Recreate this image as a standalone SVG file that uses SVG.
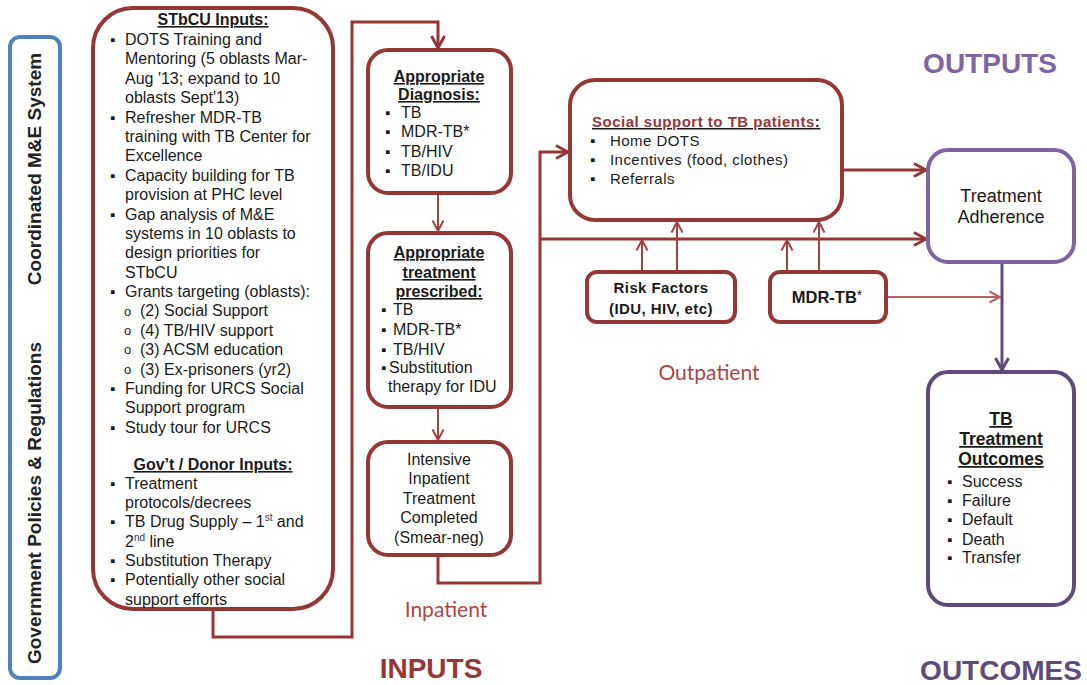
<svg xmlns="http://www.w3.org/2000/svg" width="1087" height="685" viewBox="0 0 1087 685">
<defs>
<marker id="ar" markerUnits="userSpaceOnUse" markerWidth="16" markerHeight="16" viewBox="0 0 16 16" refX="14" refY="8" orient="auto"><path d="M2,1.5 L14,8 L2,14.5" fill="none" stroke="#953735" stroke-width="3"/></marker>
<marker id="art" markerUnits="userSpaceOnUse" markerWidth="14" markerHeight="14" viewBox="0 0 14 14" refX="12.5" refY="7" orient="auto"><path d="M2,1.5 L12.5,7 L2,12.5" fill="none" stroke="#a5413f" stroke-width="2"/></marker>
<marker id="arl" markerUnits="userSpaceOnUse" markerWidth="14" markerHeight="14" viewBox="0 0 14 14" refX="12.5" refY="7" orient="auto"><path d="M2,1.5 L12.5,7 L2,12.5" fill="none" stroke="#b9605e" stroke-width="2"/></marker>
<marker id="arp" markerUnits="userSpaceOnUse" markerWidth="16" markerHeight="16" viewBox="0 0 16 16" refX="14" refY="8" orient="auto"><path d="M2,1.5 L14,8 L2,14.5" fill="none" stroke="#604a7b" stroke-width="3"/></marker>
</defs>
<style>
.box{fill:#fff;stroke:#953735;stroke-width:4}
.pbox{fill:#fff;stroke:#8064a2;stroke-width:4}
.dbox{fill:#fff;stroke:#604a7b;stroke-width:4}
text{font-family:"Liberation Sans",Arial,sans-serif;fill:#1a1a1a}
.t{font-size:16px}
.h{font-size:16px;font-weight:bold;text-decoration:underline}
.c{text-anchor:middle}
.b{font-family:"DejaVu Sans",sans-serif;font-size:15px}
.o{font-family:"Liberation Mono",monospace;font-size:13px}
.ss{font-size:15px;letter-spacing:0.45px}
.rf{font-size:15px;font-weight:bold;letter-spacing:0.4px}
.side{font-size:19px;font-weight:bold;text-anchor:middle;fill:#222}
.big{font-size:28px;font-weight:bold;text-anchor:middle}
.cal{font-family:Lato,"Open Sans",sans-serif;font-size:21px;text-anchor:middle;fill:#a84846}
.m{fill:none;stroke:#953735;stroke-width:3}
.thin{fill:none;stroke:#a5413f;stroke-width:2}
</style>

<g id="connectors">
<polyline class="m" points="213,610 213,637 352,637 352,22 438,22 438,48" marker-end="url(#ar)"/>
<line class="thin" x1="438" y1="193" x2="438" y2="231" marker-end="url(#art)"/>
<line class="thin" x1="438" y1="407" x2="438" y2="440" marker-end="url(#art)"/>
<polyline class="m" points="438,555 438,583 540,583 540,152 568,152" marker-end="url(#ar)"/>
<line class="m" x1="540" y1="239" x2="926" y2="239" marker-end="url(#ar)"/>
<line class="m" x1="842" y1="170" x2="926" y2="170" marker-end="url(#ar)"/>
<line class="thin" x1="642" y1="272" x2="642" y2="240" marker-end="url(#art)"/>
<line class="thin" x1="677" y1="272" x2="677" y2="222" marker-end="url(#art)"/>
<line class="thin" x1="787" y1="272" x2="787" y2="240" marker-end="url(#art)"/>
<line class="thin" x1="819" y1="272" x2="819" y2="222" marker-end="url(#art)"/>
<line x1="886" y1="297" x2="1000" y2="297" stroke="#b9605e" stroke-width="2" marker-end="url(#arl)"/>
<line x1="1002" y1="262" x2="1002" y2="370" stroke="#604a7b" stroke-width="3" marker-end="url(#arp)"/>
</g>

<g id="side-bar">
<rect x="10" y="37" width="50" height="641" rx="10" fill="#fff" stroke="#4f81bd" stroke-width="4"/>
<text class="side" transform="translate(41,169) rotate(-90)">Coordinated M&amp;E System</text>
<text class="side" transform="translate(41,503) rotate(-90)">Government Policies &amp; Regulations</text>
</g>

<g id="inputs-box">
<rect class="box" x="93" y="8" width="240" height="601" rx="40"/>
<text class="h c" x="213" y="25">STbCU Inputs:</text>
<g class="b">
<text x="110" y="45">▪</text><text x="110" y="123">▪</text><text x="110" y="181">▪</text><text x="110" y="220">▪</text><text x="110" y="297">▪</text><text x="110" y="394">▪</text><text x="110" y="433">▪</text>
<text x="110" y="489">▪</text><text x="110" y="527">▪</text><text x="110" y="566">▪</text><text x="110" y="585">▪</text>
</g>
<g class="o">
<text x="124" y="316">o</text><text x="124" y="335">o</text><text x="124" y="354">o</text><text x="124" y="374">o</text>
</g>
<text class="t">
<tspan x="125" y="45">DOTS Training and</tspan>
<tspan x="125" y="64">Mentoring (5 oblasts Mar-</tspan>
<tspan x="125" y="84">Aug '13; expand to 10</tspan>
<tspan x="125" y="103">oblasts Sept'13)</tspan>
<tspan x="125" y="123">Refresher MDR-TB</tspan>
<tspan x="125" y="142">training with TB Center for</tspan>
<tspan x="125" y="161">Excellence</tspan>
<tspan x="125" y="181">Capacity building for TB</tspan>
<tspan x="125" y="200">provision at PHC level</tspan>
<tspan x="125" y="220">Gap analysis of M&amp;E</tspan>
<tspan x="125" y="239">systems in 10 oblasts to</tspan>
<tspan x="125" y="258">design priorities for</tspan>
<tspan x="125" y="278">STbCU</tspan>
<tspan x="125" y="297">Grants targeting  (oblasts):</tspan>
<tspan x="140" y="316">(2) Social Support</tspan>
<tspan x="140" y="336">(4) TB/HIV support</tspan>
<tspan x="140" y="355">(3) ACSM education</tspan>
<tspan x="140" y="375">(3) Ex-prisoners (yr2)</tspan>
<tspan x="125" y="394">Funding for URCS Social</tspan>
<tspan x="125" y="413">Support program</tspan>
<tspan x="125" y="433">Study tour for URCS</tspan>
</text>
<text class="h c" x="213" y="470">Gov’t / Donor Inputs:</text>
<text class="t">
<tspan x="125" y="489">Treatment</tspan>
<tspan x="125" y="508">protocols/decrees</tspan>
<tspan x="125" y="527">TB Drug Supply – 1<tspan font-size="10" dy="-6" fill="#1f3864">st</tspan><tspan dy="6"> and</tspan></tspan>
<tspan x="125" y="547">2<tspan font-size="10" dy="-6" fill="#1f3864">nd</tspan><tspan dy="6"> line</tspan></tspan>
<tspan x="125" y="566">Substitution Therapy</tspan>
<tspan x="125" y="585">Potentially other social</tspan>
<tspan x="125" y="605">support efforts</tspan>
</text>
</g>

<g id="diagnosis">
<rect class="box" x="368" y="50" width="143" height="143" rx="20"/>
<text class="h c" x="439" y="82">Appropriate</text>
<text class="h c" x="439" y="100">Diagnosis:</text>
<g class="b"><text x="385" y="118">▪</text><text x="385" y="137">▪</text><text x="385" y="157">▪</text><text x="385" y="176">▪</text></g>
<text class="t"><tspan x="401" y="118">TB</tspan><tspan x="401" y="137">MDR-TB*</tspan><tspan x="401" y="157">TB/HIV</tspan><tspan x="401" y="176">TB/IDU</tspan></text>
</g>

<g id="treatment-prescribed">
<rect class="box" x="368" y="233" width="143" height="174" rx="20"/>
<text class="h c" x="439" y="258">Appropriate</text>
<text class="h c" x="439" y="278">treatment</text>
<text class="h c" x="439" y="297">prescribed:</text>
<g class="b"><text x="381" y="315">▪</text><text x="381" y="335">▪</text><text x="381" y="355">▪</text><text x="381" y="373">▪</text></g>
<text class="t"><tspan x="393" y="315">TB</tspan><tspan x="393" y="335">MDR-TB*</tspan><tspan x="393" y="355">TB/HIV</tspan><tspan x="389" y="373">Substitution</tspan><tspan x="388" y="392">therapy for IDU</tspan></text>
</g>

<g id="intensive">
<rect class="box" x="368" y="442" width="143" height="113" rx="20"/>
<text class="t c"><tspan x="439" y="465">Intensive</tspan><tspan x="439" y="484">Inpatient</tspan><tspan x="439" y="504">Treatment</tspan><tspan x="439" y="523">Completed</tspan><tspan x="439" y="543">(Smear-neg)</tspan></text>
</g>

<g id="social-support">
<rect class="box" x="570" y="80" width="272" height="140" rx="25"/>
<text x="592" y="127" style="font-size:15px;font-weight:bold;letter-spacing:0.5px;text-decoration:underline"><tspan fill="#953735">Social support to TB patients</tspan>:</text>
<g class="b"><text x="590" y="146">▪</text><text x="590" y="165">▪</text><text x="590" y="184">▪</text></g>
<text class="ss"><tspan x="610" y="146">Home DOTS</tspan><tspan x="610" y="165">Incentives (food, clothes)</tspan><tspan x="610" y="184">Referrals</tspan></text>
</g>

<g id="risk-factors">
<rect class="box" x="587" y="272" width="148" height="50" rx="10"/>
<text class="rf c"><tspan x="661" y="293">Risk Factors</tspan><tspan x="661" y="314">(IDU, HIV, etc)</tspan></text>
</g>

<g id="mdr-tb">
<rect class="box" x="770" y="272" width="116" height="50" rx="10"/>
<text class="c" x="827" y="303" style="font-size:16.5px;font-weight:bold">MDR-TB<tspan font-weight="normal" font-size="14" dy="-3">*</tspan></text>
</g>

<g id="treatment-adherence">
<rect class="pbox" x="928" y="150" width="146" height="112" rx="20"/>
<text class="c" style="font-size:18px"><tspan x="1001" y="202">Treatment</tspan><tspan x="1001" y="223">Adherence</tspan></text>
</g>

<g id="tb-outcomes">
<rect class="dbox" x="928" y="372" width="146" height="233" rx="20"/>
<text class="c" style="font-size:17.5px;font-weight:bold;text-decoration:underline"><tspan x="1001" y="425">TB</tspan><tspan x="1001" y="445">Treatment</tspan><tspan x="1001" y="465">Outcomes</tspan></text>
<g class="b"><text x="947" y="487">▪</text><text x="947" y="506">▪</text><text x="947" y="525">▪</text><text x="947" y="545">▪</text><text x="947" y="563">▪</text></g>
<text class="t"><tspan x="962" y="487">Success</tspan><tspan x="962" y="506">Failure</tspan><tspan x="962" y="525">Default</tspan><tspan x="962" y="545">Death</tspan><tspan x="962" y="563">Transfer</tspan></text>
</g>

<g id="labels">
<text class="big" x="990" y="73" style="fill:#8064a2">OUTPUTS</text>
<text class="big" x="1001" y="680" style="fill:#604a7b">OUTCOMES</text>
<text class="big" x="431" y="678" style="fill:#953735">INPUTS</text>
<text class="cal" x="446" y="617">Inpatient</text>
<text class="cal" x="709" y="380">Outpatient</text>
</g>
</svg>
